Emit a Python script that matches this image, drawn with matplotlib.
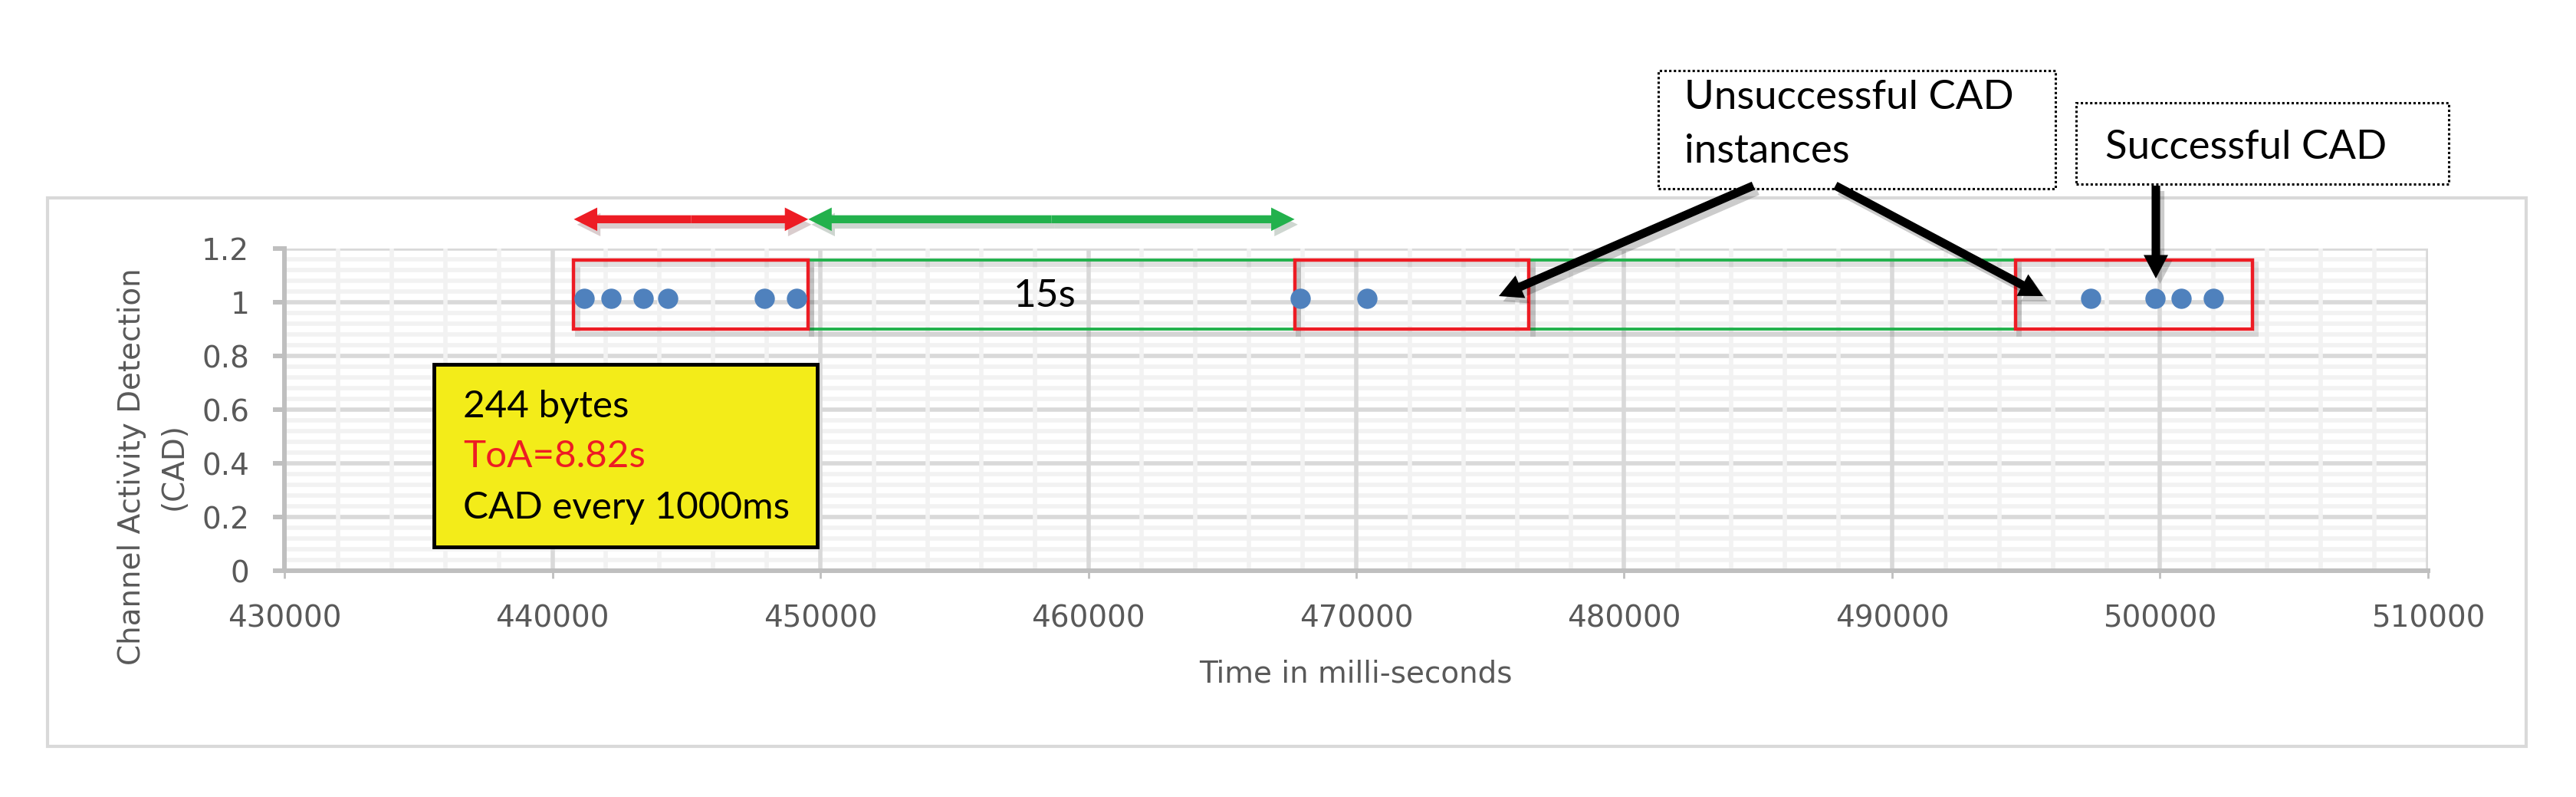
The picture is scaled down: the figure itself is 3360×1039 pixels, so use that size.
import matplotlib
matplotlib.use("Agg")
import matplotlib.pyplot as plt
import matplotlib.patheffects as pe
from matplotlib.patches import Rectangle, FancyArrowPatch
from matplotlib.ticker import MultipleLocator, FuncFormatter

# CAD samples (time in ms, detection value)
cad_time = [441200, 442200, 443400, 444300, 447900, 449100,
            467900, 470400,
            497400, 499800, 500800, 502000]
cad_value = [1.015, 1.015, 1.015, 1.015, 1.015, 1.015,
             1.015, 1.015,
             1.015, 1.015, 1.015, 1.015]

# transmit (red) / back-off (green) windows
window_start = [440800, 449550, 467700, 476450, 494600]
window_end = [449550, 467700, 476450, 494600, 503450]
window_kind = ["tx", "wait", "tx", "wait", "tx"]
window_low, window_high = 0.90, 1.158

x_ticks = [430000, 440000, 450000, 460000, 470000, 480000, 490000, 500000, 510000]
y_ticks = [0, 0.2, 0.4, 0.6, 0.8, 1.0, 1.2]

W, H = 3360, 1039
RED = "#ed1c24"
GREEN = "#22b14c"
GREY_TXT = "#595959"
CALLOUT_FONT = ["Lato", "DejaVu Sans"]


def fx(x):
    return x / W


def fy(y):
    return 1 - y / H


fig = plt.figure(figsize=(W / 100, H / 100), dpi=100)
fig.patch.set_facecolor("white")

# outer chart frame
fig.patches.append(Rectangle((fx(62), fy(973)), fx(3295) - fx(62), fy(258) - fy(973),
                             transform=fig.transFigure, fill=False,
                             edgecolor="#d9d9d9", lw=3))

ax = fig.add_axes([fx(371), fy(744), fx(3167) - fx(371), fy(324) - fy(744)])
ax.set_xlim(x_ticks[0], x_ticks[-1])
ax.set_ylim(y_ticks[0], y_ticks[-1])
ax.set_xticks(x_ticks)
ax.set_yticks(y_ticks)
ax.xaxis.set_minor_locator(MultipleLocator(2000))
ax.yaxis.set_minor_locator(MultipleLocator(0.04))
ax.xaxis.set_major_formatter(FuncFormatter(lambda v, p: "%d" % v))
ax.yaxis.set_major_formatter(FuncFormatter(lambda v, p: "%g" % v))
ax.set_axisbelow(True)
ax.grid(which="minor", color="#f2f2f2", lw=4)
ax.grid(which="major", color="#d9d9d9", lw=4)
# vertical gridlines drawn over the horizontal ones, like Excel
ax.yaxis.set_zorder(0.5)
ax.xaxis.set_zorder(0.6)
for s in ["top", "right"]:
    ax.spines[s].set_visible(False)
for s in ["left", "bottom"]:
    ax.spines[s].set_color("#bfbfbf")
    ax.spines[s].set_linewidth(4.3)
ax.tick_params(which="minor", length=0)
ax.tick_params(axis="y", which="major", length=11, width=4.3, color="#bfbfbf",
               pad=22, labelsize=28, labelcolor=GREY_TXT)
ax.tick_params(axis="x", which="major", length=7, width=2, color="#bfbfbf",
               pad=24, labelsize=28, labelcolor=GREY_TXT)

# windows (outline only, soft offset shadow on the stroke)
for x0, x1, kind in zip(window_start, window_end, window_kind):
    ax.add_patch(Rectangle((x0, window_low), x1 - x0, window_high - window_low,
                           fill=False, edgecolor=RED if kind == "tx" else GREEN,
                           lw=3.2 if kind == "tx" else 2.8,
                           zorder=3 if kind == "tx" else 2,
                           path_effects=[pe.Stroke(offset=(3, -4), foreground="black",
                                                   alpha=0.12, linewidth=5),
                                         pe.Normal()]))

ax.plot(cad_time, cad_value, "o", color="#4f81bd", markersize=18, zorder=4, clip_on=False)

ax.text((window_start[1] + window_end[1]) / 2 - 250, 1.023, "15s", fontsize=37,
        family=CALLOUT_FONT, ha="center", va="center", zorder=5)

# double arrows above the first two windows
arrow_y = 1.309
arrow_style = "simple,head_length=2.2,head_width=2.2,tail_width=0.75"
for x0, x1, col in [(window_start[0], window_end[0], RED),
                    (window_start[1], window_end[1], GREEN)]:
    mid = (x0 + x1) / 2
    for end in (x0, x1):
        ax.add_patch(FancyArrowPatch((mid, arrow_y), (end, arrow_y), arrowstyle=arrow_style,
                                     mutation_scale=10, color=col, lw=0, clip_on=False,
                                     shrinkA=0, shrinkB=0, zorder=5,
                                     path_effects=[pe.SimplePatchShadow(offset=(3, -5), alpha=0.2),
                                                   pe.Normal()]))

# axis labels
fig.text(fx(1768), fy(879), "Time in milli-seconds", fontsize=28, color=GREY_TXT,
         ha="center", va="center")
fig.text(fx(199), fy(608), "Channel Activity Detection\n(CAD)", fontsize=28,
         color=GREY_TXT, rotation=90, ha="center", va="center",
         multialignment="center", linespacing=1.55)

# yellow info box
fig.patches.append(Rectangle((fx(566), fy(713)), fx(1066) - fx(566), fy(475) - fy(713),
                             transform=fig.transFigure, facecolor="#f3ec19",
                             edgecolor="black", lw=3.5, zorder=6))
for txt, base, col in [("244 bytes", 544, "black"), ("ToA=8.82s", 609, RED),
                       ("CAD every 1000ms", 676, "black")]:
    fig.text(fx(604), fy(base), txt, fontsize=35.5, family=CALLOUT_FONT, color=col,
             ha="left", va="baseline", zorder=7)

# callout boxes
for (l, t, r, b) in [(2163, 92, 2681, 246), (2708, 134, 3194, 240)]:
    fig.patches.append(Rectangle((fx(l), fy(b)), fx(r) - fx(l), fy(t) - fy(b),
                                 transform=fig.transFigure, facecolor="white",
                                 edgecolor="black", lw=2.2, linestyle=(0, (1, 1)),
                                 zorder=6))
fig.text(fx(2197), fy(142), "Unsuccessful CAD", fontsize=38, family=CALLOUT_FONT,
         ha="left", va="baseline", zorder=7)
fig.text(fx(2197), fy(212), "instances", fontsize=38, family=CALLOUT_FONT,
         ha="left", va="baseline", zorder=7)
fig.text(fx(2746), fy(207), "Successful CAD", fontsize=38, family=CALLOUT_FONT,
         ha="left", va="baseline", zorder=7)

# black pointer arrows
for (x0, y0), (x1, y1) in [((2287, 242), (1955, 386)),
                           ((2394, 242), (2665, 386)),
                           ((2812, 242), (2812, 363))]:
    fig.patches.append(FancyArrowPatch((fx(x0), fy(y0)), (fx(x1), fy(y1)),
                                       transform=fig.transFigure,
                                       arrowstyle="simple,head_length=2.2,head_width=2.3,tail_width=0.8",
                                       mutation_scale=10, color="black", lw=0,
                                       shrinkA=0, shrinkB=0, zorder=8,
                                       path_effects=[pe.SimplePatchShadow(offset=(4, -5), alpha=0.2),
                                                     pe.Normal()]))

fig.savefig("out.png", dpi=100)
